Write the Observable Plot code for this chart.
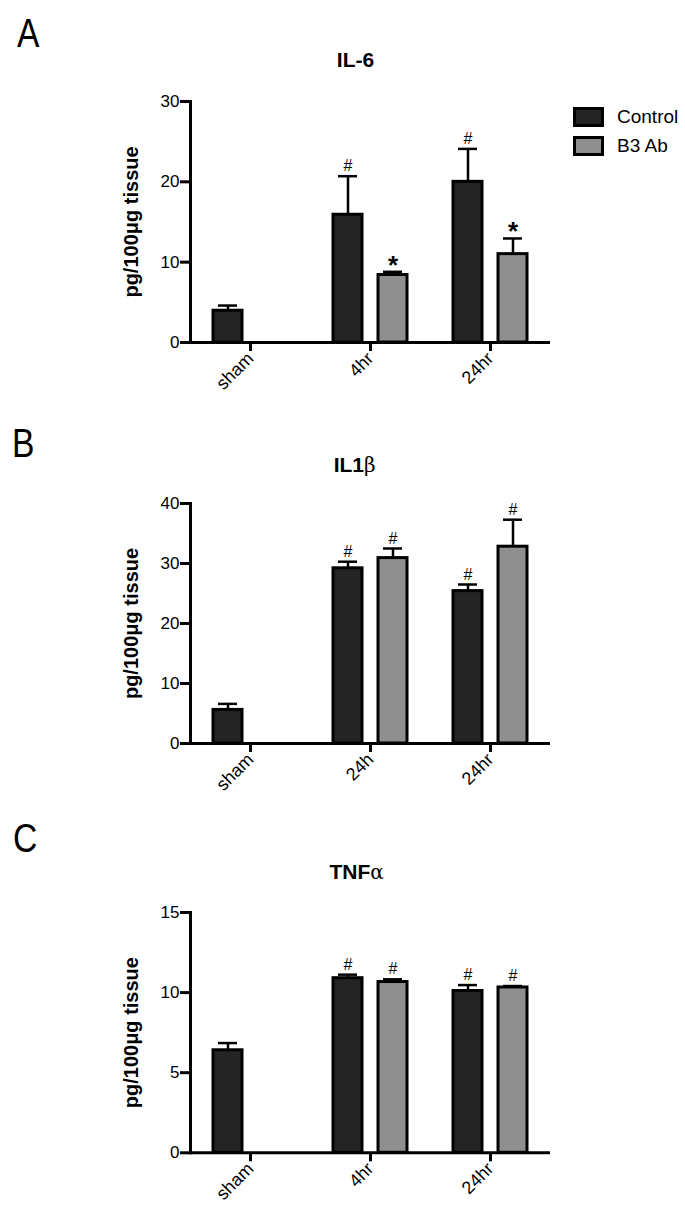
<!DOCTYPE html>
<html><head><meta charset="utf-8">
<script src="https://cdn.jsdelivr.net/npm/d3@7"></script>
<script src="https://cdn.jsdelivr.net/npm/@observablehq/plot@0.6"></script>
<style>
body{margin:0;background:#fff;}
#wrap{position:relative;width:685px;height:1213px;overflow:hidden;font-family:"Liberation Sans",Arial,sans-serif;color:#000;}
.panel{position:absolute;left:0;}
.letter{position:absolute;font-size:41px;line-height:41px;transform:scaleX(0.82);transform-origin:left top;}
.title{position:absolute;font-weight:bold;font-size:21px;line-height:21px;width:200px;text-align:center;}
.greek{font-weight:normal;font-family:"DejaVu Serif",serif;font-size:20px;}
g[aria-label="y-axis label"]{font-weight:bold;font-size:20px;}
#legend{position:absolute;left:573px;top:107px;}
#legend *{font-family:"Liberation Sans",Arial,sans-serif !important;font-size:19px !important;color:#000 !important;}
#legend [class$="-swatch"]{margin-bottom:8px;line-height:20px;}
#legend svg{outline:3px solid #000;outline-offset:-3px;margin-right:13px !important;}
</style></head><body><div id="wrap"></div>
<script>
const series = ["Control", "B3 Ab"];
const seriesColors = ["#242424", "#8f8f8f"];

// Panel A: IL-6
const catsA = ["sham", "4hr", "24hr"];
const ctrlA = [3.95, 15.9, 20.0];
const ctrlErrA = [0.65, 4.8, 4.1];
const b3A = [null, 8.4, 11.0];
const b3ErrA = [null, 0.4, 1.95];
const ctrlNoteA = ["", "#", "#"];
const b3NoteA = ["", "*", "*"];
const ticksA = [0, 10, 20, 30];

// Panel B: IL1β
const catsB = ["sham", "24h", "24hr"];
const ctrlB = [5.6, 29.2, 25.4];
const ctrlErrB = [1.0, 1.1, 1.1];
const b3B = [null, 30.9, 32.8];
const b3ErrB = [null, 1.6, 4.5];
const ctrlNoteB = ["", "#", "#"];
const b3NoteB = ["", "#", "#"];
const ticksB = [0, 10, 20, 30, 40];

// Panel C: TNFα
const catsC = ["sham", "4hr", "24hr"];
const ctrlC = [6.4, 10.9, 10.1];
const ctrlErrC = [0.45, 0.22, 0.37];
const b3C = [null, 10.66, 10.32];
const b3ErrC = [null, 0.17, 0.09];
const ctrlNoteC = ["", "#", "#"];
const b3NoteC = ["", "#", "#"];
const ticksC = [0, 5, 10, 15];

const FONT = '"Liberation Sans", Arial, sans-serif';

function buildRows(cats, ctrl, ctrlErr, b3, b3Err, ctrlNote, b3Note) {
  const rows = [];
  cats.forEach((c, i) => {
    rows.push({cat: c, s: series[0], v: ctrl[i], e: ctrlErr[i], note: ctrlNote[i]});
    if (b3[i] != null) rows.push({cat: c, s: series[1], v: b3[i], e: b3Err[i], note: b3Note[i]});
  });
  return rows;
}

function makePanel(cats, rows, ticks, height, marginTop, marginBottom) {
  const yMax = ticks[ticks.length - 1];
  return Plot.plot({
    width: 685, height, marginLeft: 190, marginRight: 135, marginTop, marginBottom,
    style: {fontFamily: FONT, fontSize: "17px", color: "#000", background: "transparent", overflow: "visible"},
    fx: {domain: cats, padding: 0, label: null},
    x: {domain: series, paddingInner: 0.363, paddingOuter: 0.5, axis: null},
    y: {domain: [0, yMax]},
    color: {domain: series, range: seriesColors},
    marks: [
      Plot.ruleX(rows, {fx: "cat", x: "s", y1: "v", y2: d => d.v + d.e, stroke: "#000", strokeWidth: 2.5}),
      Plot.tickY(rows, {fx: "cat", x: "s", y: d => d.v + d.e, stroke: "#000", strokeWidth: 2.5, insetLeft: 5, insetRight: 5}),
      Plot.barY(rows, {fx: "cat", x: "s", y: "v", fill: "s", stroke: "#000", strokeWidth: 3}),
      Plot.text(rows.filter(d => d.note === "#"), {fx: "cat", x: "s", y: d => d.v + d.e, text: "note", lineAnchor: "bottom", dy: -5, fontSize: 16, fill: "#000"}),
      Plot.text(rows.filter(d => d.note === "*"), {fx: "cat", x: "s", y: d => d.v + d.e, text: "note", lineAnchor: "bottom", dy: 2, fontSize: 26, fontWeight: "bold", fill: "#000"}),
      Plot.ruleY([0], {stroke: "#000", strokeWidth: 3}),
      Plot.frame({anchor: "left", facet: "super", stroke: "#000", strokeWidth: 3}),
      Plot.axisY({ticks, tickSize: 10, tickPadding: 1, strokeWidth: 3, fontSize: 17,
        label: "pg/100μg tissue", labelAnchor: "center", labelOffset: 67, labelArrow: "none"}),
      Plot.axisFx({anchor: "bottom", tickSize: 9, tickPadding: 4, strokeWidth: 3, tickRotate: -45, fontSize: 18, label: null})
    ]
  });
}

const wrap = document.getElementById("wrap");

function addPanel(svg, top) {
  svg.classList.add("panel");
  svg.style.top = top + "px";
  svg.style.position = "absolute";
  wrap.appendChild(svg);
}

addPanel(makePanel(catsA, buildRows(catsA, ctrlA, ctrlErrA, b3A, b3ErrA, ctrlNoteA, b3NoteA), ticksA, 400, 101, 58), 0);
addPanel(makePanel(catsB, buildRows(catsB, ctrlB, ctrlErrB, b3B, b3ErrB, ctrlNoteB, b3NoteB), ticksB, 400, 103, 57), 400);
addPanel(makePanel(catsC, buildRows(catsC, ctrlC, ctrlErrC, b3C, b3ErrC, ctrlNoteC, b3NoteC), ticksC, 403, 102, 60.7), 810);

function addDiv(cls, html, left, top) {
  const d = document.createElement("div");
  d.className = cls;
  d.innerHTML = html;
  d.style.left = left + "px";
  d.style.top = top + "px";
  wrap.appendChild(d);
  return d;
}
addDiv("letter", "A", 17, 13);
addDiv("letter", "B", 12, 423);
addDiv("letter", "C", 13, 818);
addDiv("title", "IL-6", 255.5, 49);
addDiv("title", 'IL1<span class="greek">β</span>', 254.6, 454);
addDiv("title", 'TNF<span class="greek">α</span>', 256.6, 861);

const legend = Plot.legend({
  color: {domain: series, range: seriesColors},
  legend: "swatches", columns: 1, swatchWidth: 31, swatchHeight: 20
});
const lg = document.createElement("div");
lg.id = "legend";
lg.appendChild(legend);
wrap.appendChild(lg);
</script>
</body></html>
